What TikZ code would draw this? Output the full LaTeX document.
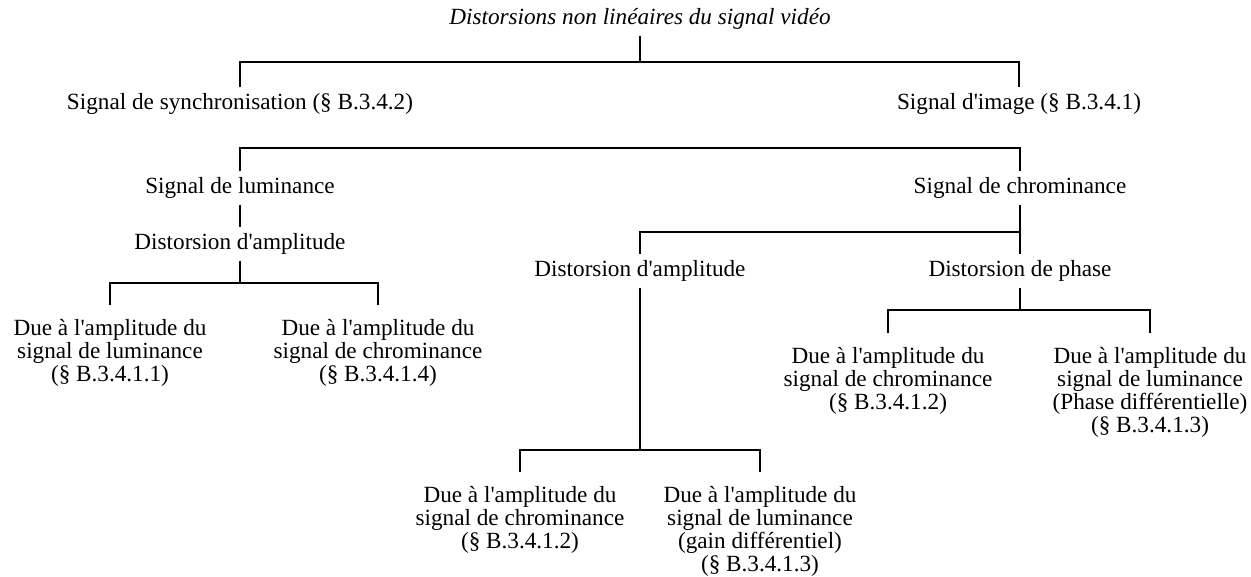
\documentclass[tikz,border=0pt]{standalone}
\usepackage{fontspec}
\setmainfont{Liberation Serif}[Ligatures=TeXOff]

\tikzset{
    lbl/.style={inner sep=0pt, outer xsep=0pt, outer ysep=3pt, font=\fontsize{11.6}{11.6}\selectfont},
    leaf/.style={lbl, align=center, anchor=north, outer ysep=7pt},
    tree/.style={line width=1pt}
}

\begin{document}
\begin{tikzpicture}[x=0.5pt, y=-0.5pt]
    \useasboundingbox (0,0) rectangle (1251,577);

    \node[lbl, font=\fontsize{11.6}{11.6}\selectfont\itshape] (title) at (640,19) {Distorsions non linéaires du signal vidéo};
    \node[lbl] (sync) at (240,104) {Signal de synchronisation (§ B.3.4.2)};
    \node[lbl] (img) at (1019,104) {Signal d'image (§ B.3.4.1)};
    \node[lbl] (lum) at (240,188) {Signal de luminance};
    \node[lbl] (chr) at (1020,188) {Signal de chrominance};
    \node[lbl] (damp1) at (240,244) {Distorsion d'amplitude};
    \node[lbl] (damp2) at (640,271) {Distorsion d'amplitude};
    \node[lbl] (phase) at (1020,271) {Distorsion de phase};

    % feuilles
    \node[leaf] (lumlum) at (110,305) {Due à l'amplitude du\\signal de luminance\\(§ B.3.4.1.1)};
    \node[leaf] (lumchr) at (378,305) {Due à l'amplitude du\\signal de chrominance\\(§ B.3.4.1.4)};
    \node[leaf] (ampchr) at (520,472) {Due à l'amplitude du\\signal de chrominance\\(§ B.3.4.1.2)};
    \node[leaf] (amplum) at (760,472) {Due à l'amplitude du\\signal de luminance\\(gain différentiel)\\(§ B.3.4.1.3)};
    \node[leaf] (phchr) at (888,333) {Due à l'amplitude du\\signal de chrominance\\(§ B.3.4.1.2)};
    \node[leaf] (phlum) at (1150,333) {Due à l'amplitude du\\signal de luminance\\(Phase différentielle)\\(§ B.3.4.1.3)};

    \coordinate (j1) at (640,62);
    \coordinate (j2) at (640,148);
    \coordinate (j3) at (240,283);
    \coordinate (j4) at (1020,232);
    \coordinate (j5) at (640,450);
    \coordinate (j6) at (1020,310);

    \draw[tree] (title) -- (j1);
    \draw[tree] (sync) |- (j1) -| (img);
    \draw[tree] (lum) |- (j2) -| (chr);
    \draw[tree] (lum) -- (damp1);
    \draw[tree] (damp1) -- (j3);
    \draw[tree] (lumlum) |- (j3) -| (lumchr);
    \draw[tree] (chr) -- (phase);
    \draw[tree] (damp2) |- (j4);
    \draw[tree] (damp2) -- (j5);
    \draw[tree] (ampchr) |- (j5) -| (amplum);
    \draw[tree] (phase) -- (j6);
    \draw[tree] (phchr) |- (j6) -| (phlum);
\end{tikzpicture}
\end{document}
